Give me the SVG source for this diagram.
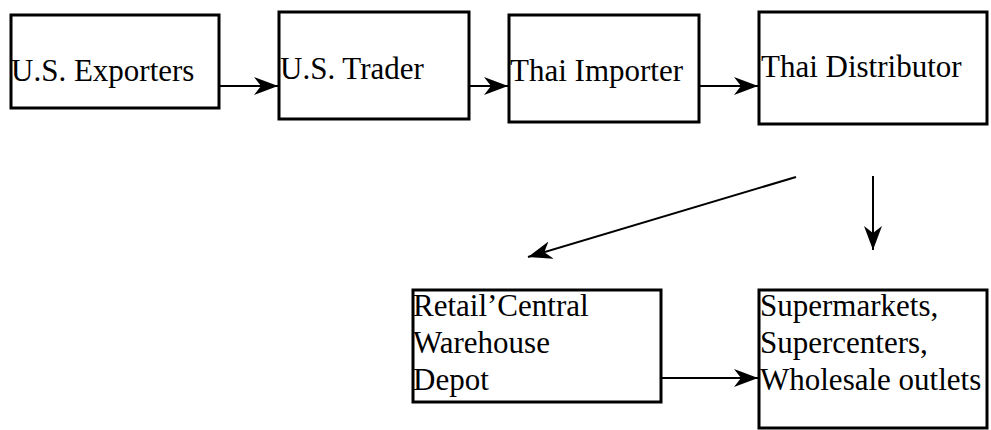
<svg xmlns="http://www.w3.org/2000/svg" width="991" height="430" viewBox="0 0 991 430">
<style>
.box{fill:#fff;stroke:#000;stroke-width:3}
.lbl{font-family:"Liberation Serif","Times New Roman",serif;font-size:31px;fill:#000}
.conn{stroke:#000;stroke-width:2;fill:none;marker-end:url(#ah)}
</style>
<defs>
<marker id="ah" viewBox="0 0 24 18" refX="24" refY="9" markerWidth="24" markerHeight="18" markerUnits="userSpaceOnUse" orient="auto">
<path d="M0,0 L24,9 L0,18 L7,9 Z" fill="#000"/>
</marker>
</defs>
<rect width="991" height="430" fill="#fff"/>
<g id="connectors">
<line class="conn" x1="220" y1="86" x2="278" y2="86"/>
<line class="conn" x1="470" y1="86" x2="508" y2="86"/>
<line class="conn" x1="700" y1="86" x2="758" y2="86"/>
<line class="conn" x1="796" y1="177" x2="528" y2="257"/>
<line class="conn" x1="873" y1="176" x2="873" y2="250"/>
<line class="conn" x1="662" y1="378" x2="758" y2="378"/>
</g>
<g id="us-exporters">
<rect class="box" x="11" y="15" width="208" height="93"/>
<text class="lbl" x="11" y="81">U.S. Exporters</text>
</g>
<g id="us-trader">
<rect class="box" x="279" y="12" width="190" height="107"/>
<text class="lbl" x="280" y="79">U.S. Trader</text>
</g>
<g id="thai-importer">
<rect class="box" x="509" y="15" width="190" height="107"/>
<text class="lbl" x="510" y="81">Thai Importer</text>
</g>
<g id="thai-distributor">
<rect class="box" x="759" y="12" width="228" height="112"/>
<text class="lbl" x="761" y="77">Thai Distributor</text>
</g>
<g id="retail-central-warehouse">
<rect class="box" x="413" y="290" width="248" height="112"/>
<text class="lbl" x="413" y="316">Retail’Central</text>
<text class="lbl" x="413" y="353">Warehouse</text>
<text class="lbl" x="413" y="390">Depot</text>
</g>
<g id="supermarkets">
<rect class="box" x="759" y="290" width="228" height="138"/>
<text class="lbl" x="760" y="316">Supermarkets,</text>
<text class="lbl" x="760" y="353">Supercenters,</text>
<text class="lbl" x="760" y="390">Wholesale outlets</text>
</g>
</svg>
